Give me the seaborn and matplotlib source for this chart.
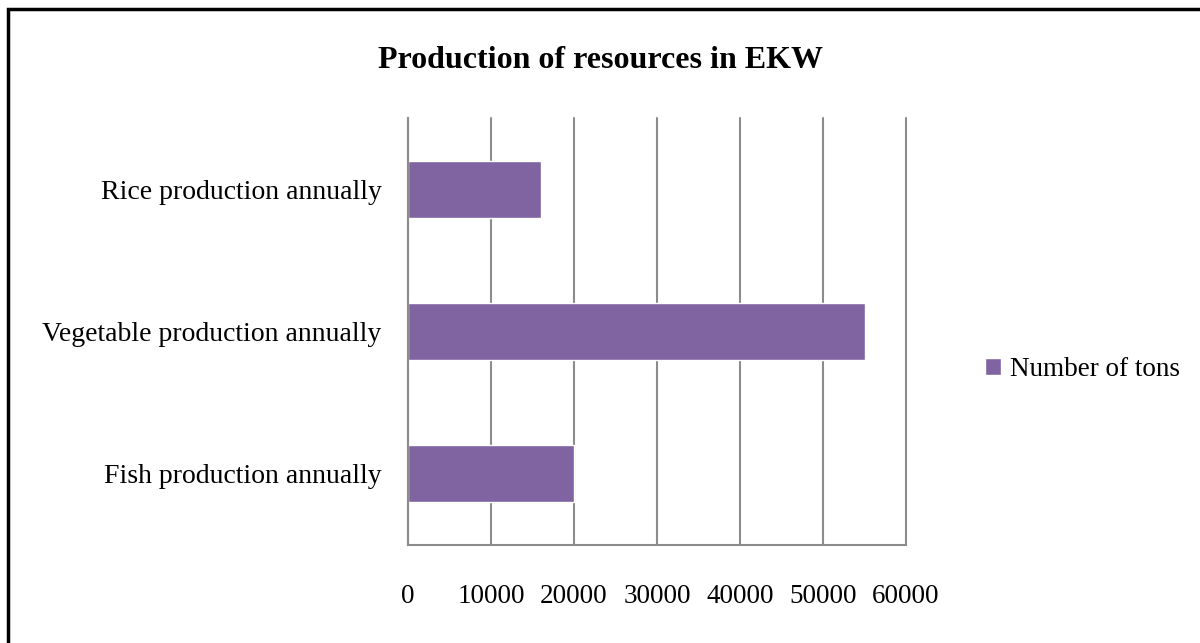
import matplotlib
matplotlib.use("Agg")
import matplotlib.pyplot as plt
import seaborn as sns
import pandas as pd
from matplotlib.patches import Rectangle

categories = ["Rice production annually", "Vegetable production annually", "Fish production annually"]
values = [16000, 55000, 20000]
series_name = "Number of tons"
xticks = [0, 10000, 20000, 30000, 40000, 50000, 60000]
title = "Production of resources in EKW"

sns.set_theme(style="white")
plt.rcParams['font.family'] = ['Liberation Serif', 'DejaVu Serif']
plt.rcParams['text.color'] = 'black'
plt.rcParams['xtick.color'] = 'black'
plt.rcParams['ytick.color'] = 'black'
plt.rcParams['xtick.labelcolor'] = 'black'
plt.rcParams['ytick.labelcolor'] = 'black'

df = pd.DataFrame({"category": categories, "value": values, "series": series_name})

fig = plt.figure(figsize=(12, 6.43), dpi=100)
ax = fig.add_axes([408/1200, 1-545/643, (906-408)/1200, (545-118)/643])

sns.barplot(data=df, y="category", x="value", hue="series", orient="h",
            palette=["#8064A2"], width=0.4, ax=ax, legend=True, saturation=1)

ax.set_xlim(0, 60000)
ax.set_ylim(2.5, -0.5)
ax.set_xticks(xticks)
ax.set_xticklabels([str(t) for t in xticks], fontsize=19.5)
ax.tick_params(axis='x', pad=28, length=0)
ax.tick_params(axis='y', length=0, pad=19, labelsize=20)
ax.set_xlabel("")
ax.set_ylabel("")
ax.grid(axis='x', color='#8c8c8c', linewidth=1.5)
for gl in ax.get_xgridlines():
    gl.set_clip_on(False)
ax.set_axisbelow(True)
for s in ["top", "right"]:
    ax.spines[s].set_visible(False)
for s in ["left", "bottom"]:
    ax.spines[s].set_color('#8c8c8c')
    ax.spines[s].set_linewidth(1.5)

leg = ax.legend(loc='center left', bbox_to_anchor=(1.11, 0.41), frameon=False,
                fontsize=19.5, handlelength=0.6, handleheight=0.6, handletextpad=0.3)

fig.text(0.5, 1-60/643, title, ha='center', va='center', fontsize=23, fontweight='bold')

fig.patches.append(Rectangle((8/1200, -0.05), 1.1, 1-9/643+0.05, transform=fig.transFigure,
                             fill=False, edgecolor='black', linewidth=2.5))

fig.savefig("out.png", dpi=100)
